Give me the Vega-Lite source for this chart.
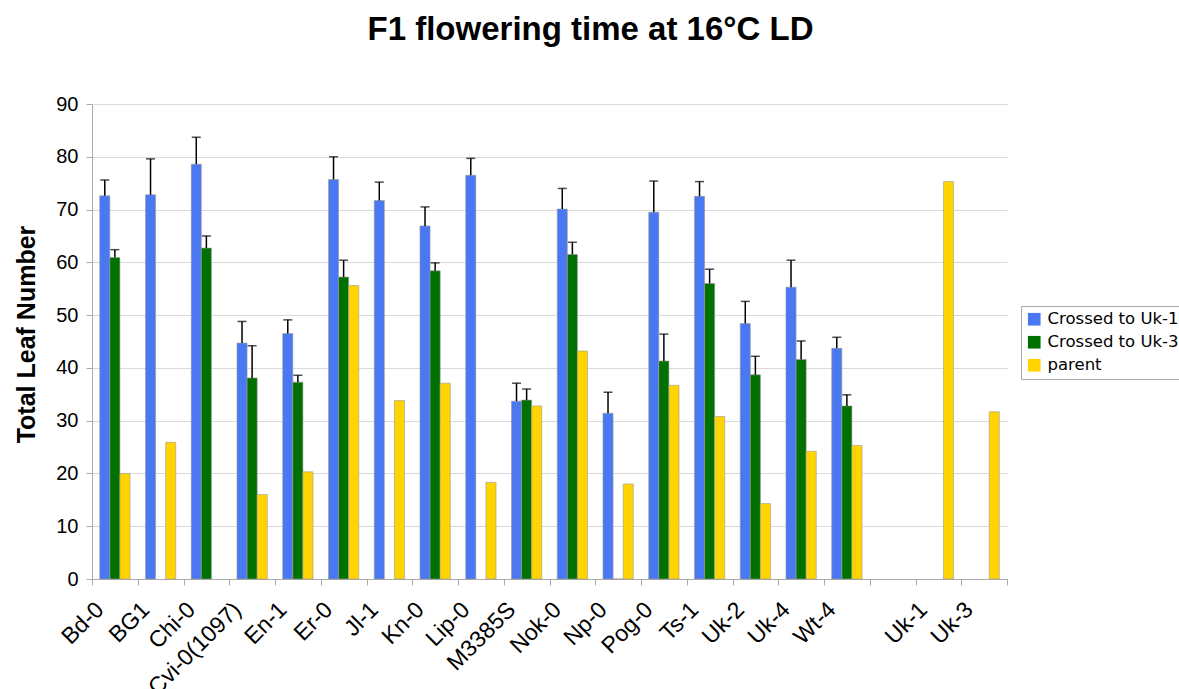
{
  "$schema": "https://vega.github.io/schema/vega-lite/v6.json",
  "width": 915,
  "height": 475,
  "autosize": {"type": "none"},
  "padding": {"left": 92, "top": 104, "right": 172, "bottom": 110},
  "background": "white",
  "title": {
    "text": "F1 flowering time at 16°C LD",
    "font": "Liberation Sans",
    "fontSize": 33,
    "fontWeight": "bold",
    "color": "black",
    "anchor": "middle",
    "frame": "group",
    "dx": 41,
    "offset": 47
  },
  "config": {
    "view": {"stroke": null},
    "axis": {"domainColor": "#aaaaaa", "tickColor": "#aaaaaa", "gridColor": "#d9d9d9", "labelColor": "black", "titleColor": "black"}
  },
  "data": {
    "values": [
      {"line": "Bd-0", "series": "Crossed to Uk-1", "value": 72.6, "hi": 75.6},
      {"line": "Bd-0", "series": "Crossed to Uk-3", "value": 60.9, "hi": 62.4},
      {"line": "Bd-0", "series": "parent", "value": 20.0},
      {"line": "BG1", "series": "Crossed to Uk-1", "value": 72.8, "hi": 79.6},
      {"line": "BG1", "series": "parent", "value": 25.9},
      {"line": "Chi-0", "series": "Crossed to Uk-1", "value": 78.6, "hi": 83.7},
      {"line": "Chi-0", "series": "Crossed to Uk-3", "value": 62.7, "hi": 65.0},
      {"line": "Cvi-0(1097)", "series": "Crossed to Uk-1", "value": 44.7, "hi": 48.8},
      {"line": "Cvi-0(1097)", "series": "Crossed to Uk-3", "value": 38.1, "hi": 44.2},
      {"line": "Cvi-0(1097)", "series": "parent", "value": 16.0},
      {"line": "En-1", "series": "Crossed to Uk-1", "value": 46.5, "hi": 49.1},
      {"line": "En-1", "series": "Crossed to Uk-3", "value": 37.3, "hi": 38.6},
      {"line": "En-1", "series": "parent", "value": 20.3},
      {"line": "Er-0", "series": "Crossed to Uk-1", "value": 75.7, "hi": 80.0},
      {"line": "Er-0", "series": "Crossed to Uk-3", "value": 57.2, "hi": 60.4},
      {"line": "Er-0", "series": "parent", "value": 55.6},
      {"line": "Jl-1", "series": "Crossed to Uk-1", "value": 71.7, "hi": 75.2},
      {"line": "Jl-1", "series": "parent", "value": 33.8},
      {"line": "Kn-0", "series": "Crossed to Uk-1", "value": 66.9, "hi": 70.5},
      {"line": "Kn-0", "series": "Crossed to Uk-3", "value": 58.4, "hi": 59.9},
      {"line": "Kn-0", "series": "parent", "value": 37.1},
      {"line": "Lip-0", "series": "Crossed to Uk-1", "value": 76.5, "hi": 79.7},
      {"line": "Lip-0", "series": "parent", "value": 18.3},
      {"line": "M3385S", "series": "Crossed to Uk-1", "value": 33.7, "hi": 37.1},
      {"line": "M3385S", "series": "Crossed to Uk-3", "value": 33.9, "hi": 36.0},
      {"line": "M3385S", "series": "parent", "value": 32.8},
      {"line": "Nok-0", "series": "Crossed to Uk-1", "value": 70.1, "hi": 74.0},
      {"line": "Nok-0", "series": "Crossed to Uk-3", "value": 61.5, "hi": 63.8},
      {"line": "Nok-0", "series": "parent", "value": 43.2},
      {"line": "Np-0", "series": "Crossed to Uk-1", "value": 31.4, "hi": 35.4},
      {"line": "Np-0", "series": "Crossed to Uk-3", "value": 0},
      {"line": "Np-0", "series": "parent", "value": 18.0},
      {"line": "Pog-0", "series": "Crossed to Uk-1", "value": 69.5, "hi": 75.4},
      {"line": "Pog-0", "series": "Crossed to Uk-3", "value": 41.3, "hi": 46.4},
      {"line": "Pog-0", "series": "parent", "value": 36.7},
      {"line": "Ts-1", "series": "Crossed to Uk-1", "value": 72.5, "hi": 75.3},
      {"line": "Ts-1", "series": "Crossed to Uk-3", "value": 56.0, "hi": 58.7},
      {"line": "Ts-1", "series": "parent", "value": 30.8},
      {"line": "Uk-2", "series": "Crossed to Uk-1", "value": 48.4, "hi": 52.6},
      {"line": "Uk-2", "series": "Crossed to Uk-3", "value": 38.7, "hi": 42.2},
      {"line": "Uk-2", "series": "parent", "value": 14.3},
      {"line": "Uk-4", "series": "Crossed to Uk-1", "value": 55.3, "hi": 60.4},
      {"line": "Uk-4", "series": "Crossed to Uk-3", "value": 41.6, "hi": 45.1},
      {"line": "Uk-4", "series": "parent", "value": 24.2},
      {"line": "Wt-4", "series": "Crossed to Uk-1", "value": 43.7, "hi": 45.8},
      {"line": "Wt-4", "series": "Crossed to Uk-3", "value": 32.8, "hi": 34.9},
      {"line": "Wt-4", "series": "parent", "value": 25.3},
      {"line": "Uk-1", "series": "parent", "value": 75.3},
      {"line": "Uk-3", "series": "parent", "value": 31.7}
    ]
  },
  "encoding": {
    "x": {
      "field": "line",
      "type": "nominal",
      "scale": {
        "domain": ["Bd-0", "BG1", "Chi-0", "Cvi-0(1097)", "En-1", "Er-0", "Jl-1", "Kn-0", "Lip-0", "M3385S", "Nok-0", "Np-0", "Pog-0", "Ts-1", "Uk-2", "Uk-4", "Wt-4", " ", "Uk-1", "Uk-3"],
        "paddingInner": 0,
        "paddingOuter": 0
      },
      "axis": {
        "title": null,
        "labelAngle": -45,
        "labelFont": "Liberation Sans",
        "labelFontSize": 23,
        "labelPadding": 13,
        "labelOffset": -23,
        "tickBand": "extent",
        "tickSize": 6,
        "grid": false,
        "domainColor": "#aaaaaa"
      }
    },
    "xOffset": {
      "field": "series",
      "type": "nominal",
      "scale": {"domain": ["Crossed to Uk-1", "Crossed to Uk-3", "parent"], "paddingInner": 0, "paddingOuter": 0.765}
    }
  },
  "layer": [
    {
      "mark": {"type": "bar", "stroke": "#9a9a9a", "strokeWidth": 0.6},
      "encoding": {
        "y": {
          "field": "value",
          "type": "quantitative",
          "scale": {"domain": [0, 90], "nice": false},
          "axis": {
            "values": [0, 10, 20, 30, 40, 50, 60, 70, 80, 90],
            "title": "Total Leaf Number",
            "titleFont": "Liberation Sans",
            "titleFontSize": 25,
            "titleFontWeight": "bold",
            "titlePadding": 16,
            "titleY": 230,
            "labelFont": "Liberation Sans",
            "labelFontSize": 20,
            "labelPadding": 8,
            "tickSize": 6,
            "grid": true
          }
        },
        "color": {
          "field": "series",
          "type": "nominal",
          "scale": {"domain": ["Crossed to Uk-1", "Crossed to Uk-3", "parent"], "range": ["#4a78f2", "#007000", "#ffd400"]},
          "legend": {
            "title": null,
            "orient": "none",
            "legendX": 929,
            "legendY": 202,
            "symbolType": "square",
            "symbolSize": 160,
            "symbolStrokeWidth": 0,
            "labelFont": "DejaVu Sans",
            "labelFontSize": 16.5,
            "labelColor": "black",
            "labelOffset": 5,
            "rowPadding": 6,
            "strokeColor": "#aaaaaa",
            "fillColor": "white",
            "padding": 5,
            "labelLimit": 300
          }
        }
      }
    },
    {
      "transform": [{"filter": "isValid(datum.hi)"}],
      "mark": {"type": "rule", "color": "black", "strokeWidth": 1.5},
      "encoding": {
        "y": {"field": "value", "type": "quantitative"},
        "y2": {"field": "hi"}
      }
    },
    {
      "transform": [{"filter": "isValid(datum.hi)"}],
      "mark": {"type": "tick", "color": "black", "thickness": 1.5, "size": 9},
      "encoding": {
        "y": {"field": "hi", "type": "quantitative"}
      }
    }
  ]
}
